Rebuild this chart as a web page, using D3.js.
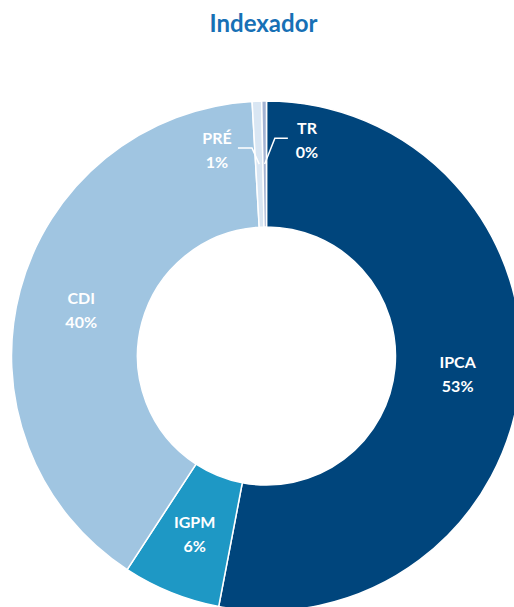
<!DOCTYPE html>
<html>
<head>
<meta charset="utf-8">
<script src="https://cdn.jsdelivr.net/npm/d3@7"></script>
<style>
  html, body { margin: 0; padding: 0; background: #fff; }
  svg { display: block; }
</style>
</head>
<body>
<div id="chart"></div>
<script>
const categories = ['IPCA', 'IGPM', 'CDI', 'PRÉ', 'TR']
const values = [53.0, 6.2, 39.9, 0.6, 0.3]
const colors = ['#00457c', '#1e98c5', '#a0c5e1', '#d9e6f3', '#a3b3d3']

const width = 514
const height = 607
const cx = 266.5
const cy = 356
const outerR = 255
const innerR = 129

// labels Excel moved by hand: polar position in degrees clockwise from top
const labelPlacement = {
  CDI: { angle: 284, radius: 191 },
  'PRÉ': { angle: 346.5, radius: 212, elbowAngle: -4, elbowR: 208.5, tail: -14 },
  TR: { angle: 10.6, radius: 220, elbowAngle: 2.2, elbowR: 218, tail: 13 }
}

const polar = (deg, r) => {
  const a = deg * Math.PI / 180
  return [r * Math.sin(a), -r * Math.cos(a)]
}

const svg = d3.select('#chart').append('svg')
  .attr('width', width)
  .attr('height', height)

svg.append('text')
  .attr('x', 263.5)
  .attr('y', 32)
  .attr('text-anchor', 'middle')
  .attr('font-family', 'Lato, sans-serif')
  .attr('font-weight', 'bold')
  .attr('font-size', 24)
  .attr('fill', '#1770b5')
  .text('Indexador')

const pie = d3.pie().sort(null).value(d => d)
const arcs = pie(values).map((d, i) => ({ ...d, name: categories[i] }))

const arc = d3.arc().innerRadius(innerR).outerRadius(outerR)
const labelArc = d3.arc().innerRadius(innerR).outerRadius(outerR)

const g = svg.append('g').attr('transform', `translate(${cx},${cy})`)

g.selectAll('path.slice')
  .data(arcs)
  .enter().append('path')
  .attr('class', 'slice')
  .attr('d', arc)
  .attr('fill', (d, i) => colors[i])
  .attr('stroke', '#fff')
  .attr('stroke-width', 1.5)
  .attr('stroke-linejoin', 'round')

const labelPos = d => {
  const p = labelPlacement[d.name]
  return p ? polar(p.angle, p.radius) : labelArc.centroid(d)
}

// leader lines for the thin slices
arcs.filter(d => labelPlacement[d.name] && labelPlacement[d.name].elbowR).forEach(d => {
  const p = labelPlacement[d.name]
  const start = labelArc.centroid(d)
  const elbow = polar(p.elbowAngle, p.elbowR)
  const end = [elbow[0] + p.tail, elbow[1]]
  g.append('path')
    .attr('d', d3.line()([start, elbow, end]))
    .attr('fill', 'none')
    .attr('stroke', '#fff')
    .attr('stroke-width', 1.5)
})

const labels = g.selectAll('g.label')
  .data(arcs)
  .enter().append('g')
  .attr('class', 'label')
  .attr('transform', d => `translate(${labelPos(d)})`)
  .attr('font-family', 'Lato, sans-serif')
  .attr('font-weight', 'bold')
  .attr('font-size', 16)
  .attr('fill', '#fff')
  .attr('text-anchor', 'middle')

labels.append('text')
  .attr('y', -12)
  .attr('dy', '0.36em')
  .text(d => d.name)

labels.append('text')
  .attr('y', 12)
  .attr('dy', '0.36em')
  .text(d => Math.round(d.data) + '%')
</script>
</body>
</html>
